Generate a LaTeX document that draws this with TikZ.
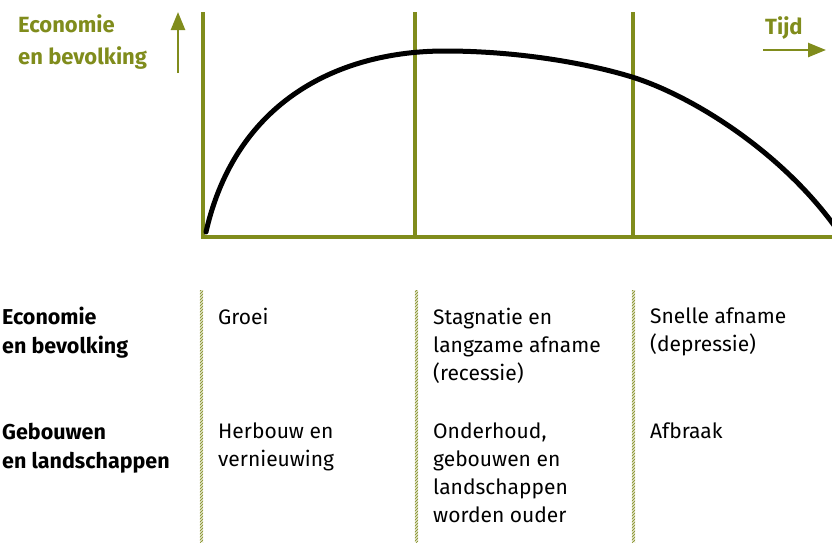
\documentclass[tikz,border=0pt]{standalone}
\usepackage{fontspec}
\setmainfont{Fira Sans}
\usetikzlibrary{arrows.meta,patterns}
\definecolor{olijf}{RGB}{128,140,28}
\tikzset{
  as/.style={olijf, line width=3.5pt},
  pijl/.style={olijf, line width=2.5pt, -{Triangle[length=18pt, width=14pt]}},
  hatch/.style={pattern=north east lines, pattern color=olijf},
  kop/.style={font=\fontsize{22}{32}\selectfont\bfseries, text=olijf, align=left,
    anchor=north west, inner sep=0pt, execute at begin node={\rule{0pt}{16pt}}},
  rij/.style={font=\fontsize{21.5}{29}\selectfont\bfseries, align=left,
    anchor=north west, inner sep=0pt, execute at begin node={\rule{0pt}{15pt}}},
  cel/.style={font=\fontsize{21}{28}\selectfont, align=left,
    anchor=north west, inner sep=0pt, execute at begin node={\rule{0pt}{15pt}}},
}
\begin{document}
\begin{tikzpicture}[x=1pt, y=-1pt]
    \useasboundingbox (0,0) rectangle (832,542);
    % Assen
    \coordinate (o) at (203,237);
    \coordinate (ytop) at (203,12);
    \coordinate (xend) at (832,237);
    \draw[as] (ytop) -- (o) -- (xend);
    \foreach \x/\n in {415/b, 633/c} {
        \coordinate (\n top) at (\x,12);
        \coordinate (\n bot) at (\x,237);
        \draw[as] (\n top) -- (\n bot);
    }
    
    % Kromme
    \coordinate (k0) at (206,232);
    \coordinate (k1) at (445,51);
    \coordinate (k2) at (632,77);
    \coordinate (k3) at (836,228);
    \draw[line width=5pt, line cap=round]
        (k0) .. controls (236,100) and (340,51) .. (k1)
             .. controls (520,51) and (590,64) .. (k2)
             .. controls (690,95) and (780,150) .. (k3);
    
    % Pijlen
    \coordinate (up0) at (178,73);
    \coordinate (up1) at (178,12);
    \draw[pijl] (up0) -- (up1);
    \coordinate (rt0) at (763,50);
    \coordinate (rt1) at (826,50);
    \draw[pijl] (rt0) -- (rt1);
    \node[kop] (econ) at (18,14) {Economie\\en bevolking};
    \node[kop] (tijd) at (765,16) {Tijd};
    
    % Gearceerde scheidingen
    \foreach \x in {201.5,416.5,633.5} {
        \fill[olijf!25] (\x-1.7,290) rectangle (\x+1.7,542);
        \fill[hatch] (\x-1.7,290) rectangle (\x+1.7,542);
    }
    
    % Tabel
    \node[rij] (r1) at (2,307) {Economie\\en bevolking};
    \node[rij] (r2) at (2,423) {Gebouwen\\en landschappen};
    \node[cel] (a1) at (218,308) {Groei};
    \node[cel] (b1) at (433,308) {Stagnatie en\\langzame afname\\(recessie)};
    \node[cel] (c1) at (650,308) {Snelle afname\\(depressie)};
    \node[cel] (a2) at (218,423) {Herbouw en\\vernieuwing};
    \node[cel] (b2) at (433,423) {Onderhoud,\\gebouwen en\\landschappen\\worden ouder};
    \node[cel] (c2) at (650,423) {Afbraak};
\end{tikzpicture}
\end{document}
